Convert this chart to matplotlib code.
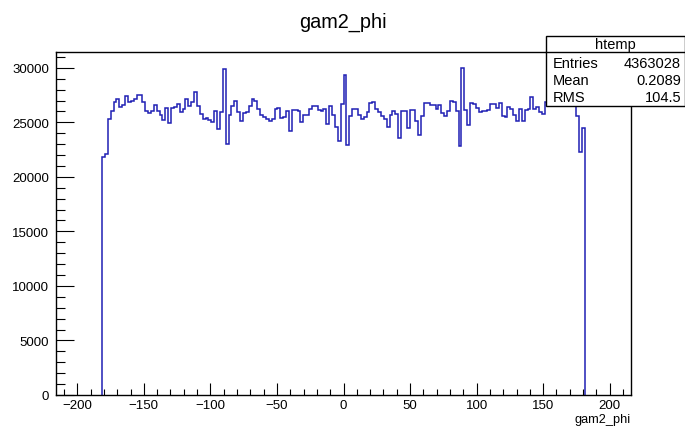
import numpy as np
import matplotlib
matplotlib.use("Agg")
import matplotlib.pyplot as plt
from matplotlib.ticker import MultipleLocator
from matplotlib.patches import Rectangle
from matplotlib.lines import Line2D

plt.rcParams['font.family'] = ['Liberation Sans', 'DejaVu Sans']

# htemp binning: 200 bins over [-216, 216], only bins 16..183 are filled
phi_min, phi_max, n_bins = -216.0, 216.0, 200
first_filled = 16
filled_counts = [
    21850, 22050, 25300, 26080, 26900, 27150, 26400, 26600, 27450, 26850,
    26950, 27100, 27550, 27500, 26900, 26080, 25850, 26080, 26550, 26080,
    25650, 25170, 26300, 24950, 26300, 26400, 26700, 25930, 26240, 27160,
    26540, 26850, 27770, 26540, 25780, 25320, 25380, 25170, 25020, 26080,
    24400, 25930, 29900, 23050, 25630, 26540, 27000, 25930, 25080, 25860,
    25930, 26540, 27160, 27000, 26240, 25630, 25500, 25320, 25100, 25320,
    26240, 26330, 25400, 25500, 26080, 24250, 26170, 26170, 26080, 25020,
    25630, 25700, 26240, 26540, 26540, 26170, 26000, 26240, 24870, 26540,
    25630, 24560, 23300, 26700, 29300, 22900, 25600, 26250, 26250, 25700,
    25350, 25500, 25950, 26800, 26900, 26250, 25950, 25550, 25300, 24600,
    25650, 26000, 25750, 23600, 26000, 26000, 24450, 26150, 26150, 25150,
    23850, 25600, 26800, 26750, 26600, 26550, 26250, 26550, 25850, 25550,
    26050, 27000, 26850, 26000, 22850, 29950, 26100, 24750, 26800, 26650,
    26300, 25950, 26000, 26000, 26100, 26700, 26700, 26300, 26750, 25600,
    25500, 26400, 26250, 25650, 25150, 26250, 25150, 26100, 26250, 27300,
    26250, 26400, 25950, 25800, 26900, 27100, 26800, 27200, 26900, 27300,
    26800, 27000, 27400, 26900, 27600, 25570, 22300, 24450,
]

stat_name = "htemp"
stat_labels = ["Entries", "Mean", "RMS"]
stat_values = ["4363028", "0.2089", "104.5"]

counts = np.zeros(n_bins)
last_filled = first_filled + len(filled_counts)
counts[first_filled:last_filled] = filled_counts
edges = np.linspace(phi_min, phi_max, n_bins + 1)

W, H = 685, 427
fig = plt.figure(figsize=(W / 100, H / 100), dpi=100)
ax = fig.add_axes([56 / W, 31 / H, 575 / W, 343 / H])

# empty bins sit on the axis line, so only the filled range is stroked
ax.stairs(counts[first_filled:last_filled],
          edges[first_filled:last_filled + 1],
          color='#1f1fb4', linewidth=1.1, baseline=0)

ax.set_xlim(phi_min, phi_max)
ax.set_ylim(0, 1.05 * counts.max())

ax.xaxis.set_major_locator(MultipleLocator(50))
ax.xaxis.set_minor_locator(MultipleLocator(10))
ax.yaxis.set_major_locator(MultipleLocator(5000))
ax.yaxis.set_minor_locator(MultipleLocator(1000))
ax.tick_params(which='both', direction='in', top=False, right=False,
               width=0.8, colors='black', labelsize=9.5)
ax.tick_params(axis='x', which='major', length=8.6, pad=3)
ax.tick_params(axis='x', which='minor', length=4.3)
ax.tick_params(axis='y', which='major', length=12.6, pad=5)
ax.tick_params(axis='y', which='minor', length=6.3)
for sp in ax.spines.values():
    sp.set_linewidth(1.0)

# axis title sits under the right end of the x axis
fig.text(631 / W, 1 - 423 / H, 'gam2_phi', ha='right', va='baseline',
         fontsize=9.2)

fig.text(343 / W, 1 - 22 / H, 'gam2_phi', ha='center', va='center',
         fontsize=14.3)

# stats box in the top-right corner
bx0, bx1 = 546 / W, 684.5 / W
by_top, by_sep, by_bot = 1 - 36.7 / H, 1 - 53.3 / H, 1 - 106.7 / H
fig.add_artist(Rectangle((bx0, by_bot), bx1 - bx0, by_top - by_bot,
                         transform=fig.transFigure, facecolor='white',
                         edgecolor='black', linewidth=1.0, zorder=5))
fig.add_artist(Line2D([bx0, bx1], [by_sep, by_sep], transform=fig.transFigure,
                      color='black', linewidth=1.0, zorder=6))
fig.text(615 / W, 1 - 45.5 / H, stat_name, ha='center', va='center',
         fontsize=10.5, zorder=7)
for i, (lab, val) in enumerate(zip(stat_labels, stat_values)):
    y = 1 - (64.3 + 17 * i) / H
    fig.text(553 / W, y, lab, ha='left', va='center', fontsize=10.5, zorder=7)
    fig.text(681 / W, y, val, ha='right', va='center', fontsize=10.5, zorder=7)

fig.savefig('out.png', dpi=100)
